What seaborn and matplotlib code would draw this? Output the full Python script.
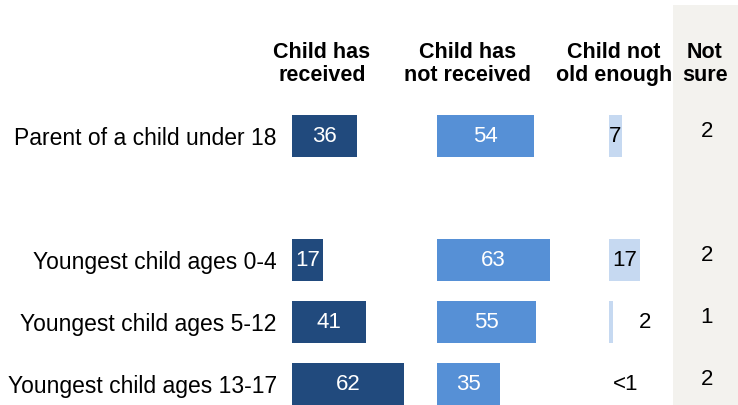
import pandas as pd
import seaborn as sns
import matplotlib.pyplot as plt

# data
groups = ["Parent of a child under 18", "Youngest child ages 0-4",
          "Youngest child ages 5-12", "Youngest child ages 13-17"]
received = [36, 17, 41, 62]
not_received = [54, 63, 55, 35]
not_old_enough = [7, 17, 2, 0]
not_old_labels = ["7", "17", "2", "<1"]
not_sure = [2, 2, 1, 2]
headers = ["Child has\nreceived", "Child has\nnot received",
           "Child not\nold enough", "Not\nsure"]

sns.set_style("white")
plt.rcParams['font.family'] = ['Liberation Sans', 'DejaVu Sans']
plt.rcParams['text.color'] = 'black'
plt.rcParams['ytick.labelcolor'] = 'black'

df = pd.DataFrame({"group": groups, "received": received,
                   "not_received": not_received,
                   "not_old_enough": not_old_enough})
# blank slot between the total and the breakdown
order = [groups[0], "", groups[1], groups[2], groups[3]]
rows = [order.index(g) for g in groups]

W, H = 738, 405
PX = 1.8  # pixels per percentage point
fig = plt.figure(figsize=(W / 100, H / 100), dpi=100)

def px_axes(left, width):
    return fig.add_axes([left / W, (H - 415) / H, width / W, 310 / H])

# grey band behind the "Not sure" column
bg = fig.add_axes([673 / W, 0, 1 - 673 / W, (H - 5) / H])
bg.set_facecolor("#f3f2ee")
bg.set_xticks([])
bg.set_yticks([])
for s in bg.spines.values():
    s.set_visible(False)

cols = [("received", "#214a7d", 292, 145),
        ("not_received", "#5690d6", 437, 172),
        ("not_old_enough", "#c6d9f1", 609, 64)]
axes = []
for col, color, left, width in cols:
    ax = px_axes(left, width)
    ax.set_facecolor("none")
    sns.barplot(data=df, x=col, y="group", order=order, orient="h",
                color=color, width=0.68, saturation=1, linewidth=0, ax=ax)
    ax.set_xlim(0, width / PX)
    ax.set_ylim(4.5, -0.5)
    ax.set_xticks([])
    ax.set_xlabel("")
    ax.set_ylabel("")
    sns.despine(ax=ax, left=True, bottom=True)
    axes.append(ax)

ax1, ax2, ax3 = axes
ax1.tick_params(axis="y", length=0, pad=11, labelsize=16.5)
ax2.set_yticks([])
ax3.set_yticks([])

for r, v in zip(rows, received):
    ax1.text(v / 2, r, str(v), ha="center", va="center", color="white", fontsize=16)
for r, v in zip(rows, not_received):
    ax2.text(v / 2, r, str(v), ha="center", va="center", color="white", fontsize=16)
small_x = {"2": 20, "<1": 9}
for r, v, lab in zip(rows, not_old_enough, not_old_labels):
    x = v / 2 if v >= 5 else small_x[lab]
    ax3.text(x, r, lab, ha="center", va="center", fontsize=16)

ax4 = px_axes(673, 65)
ax4.set_facecolor("none")
ax4.set_xlim(0, 1)
ax4.set_ylim(4.5, -0.5)
ax4.axis("off")
for r, v in zip(rows, not_sure):
    ax4.text(0.52, r - 0.08, str(v), ha="center", va="center", fontsize=16)

for x, h in zip([322, 468, 614, 705], headers):
    fig.text(x / W, 1 - 64 / H, h, ha="center", va="center",
             fontsize=15.5, fontweight="bold", linespacing=1.15)

fig.savefig("out.png", dpi=100)
